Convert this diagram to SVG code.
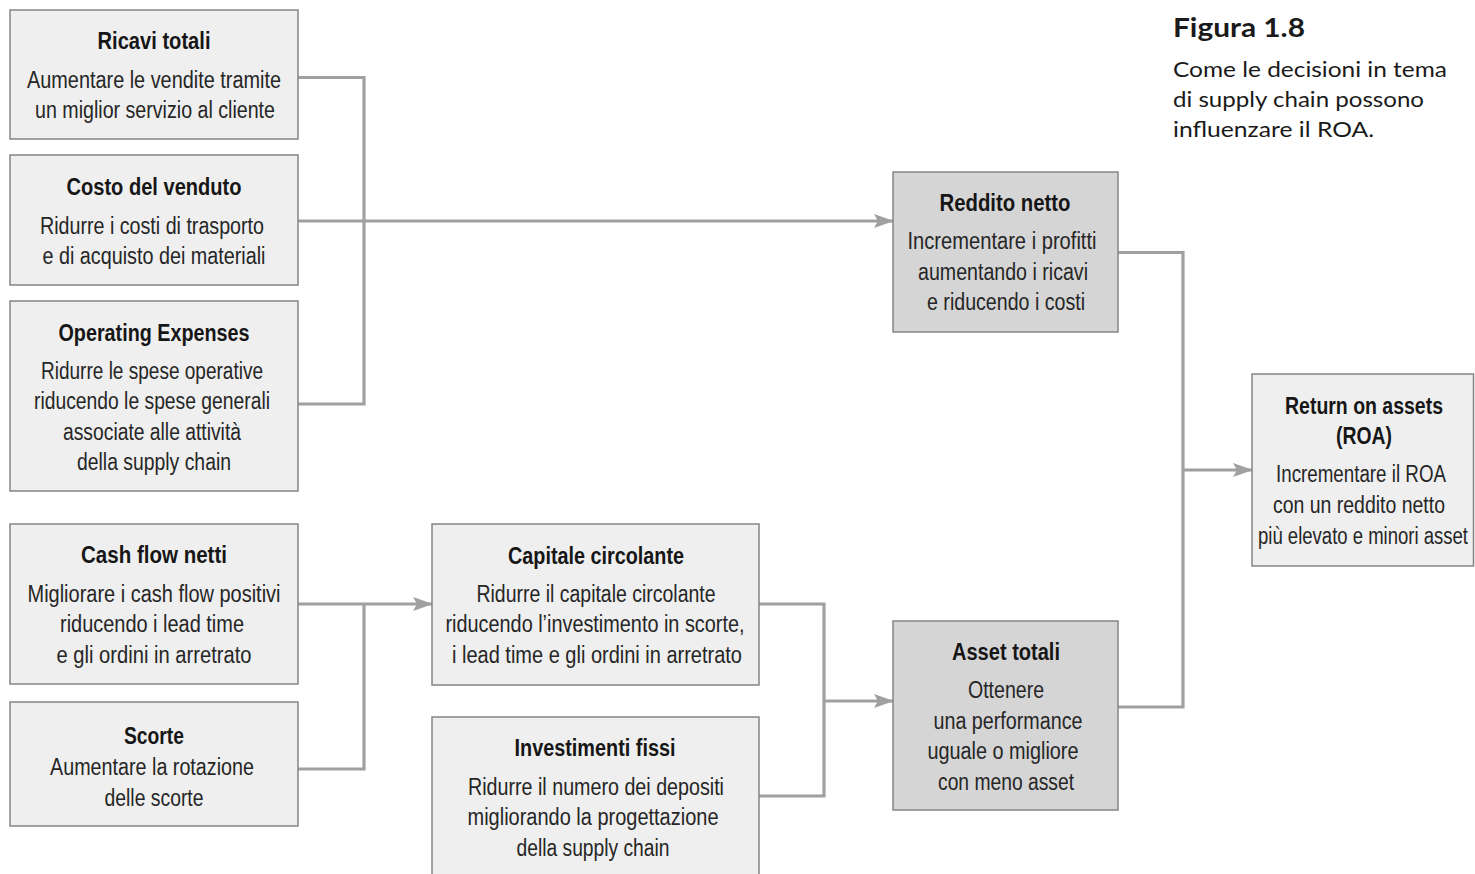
<svg xmlns="http://www.w3.org/2000/svg" width="1475" height="874" viewBox="0 0 1475 874">
  <defs>
    <style>
      .box { fill: #efefef; stroke: #858585; stroke-width: 1.5; }
      .box.dark { fill: #d5d5d5; }
      .t { font-family: "Liberation Sans", Arial, sans-serif; font-size: 23px; font-weight: bold; fill: #161616; text-anchor: middle; }
      .b { font-family: "Liberation Sans", Arial, sans-serif; font-size: 23px; fill: #262626; text-anchor: middle; }
      .wire { fill: none; stroke: #a0a0a0; stroke-width: 3.2; }
      .cap { font-family: Lato, "Open Sans", sans-serif; fill: #1a1a1a; }
    </style>
    <marker id="arrow" viewBox="0 0 20 14" refX="19" refY="7" markerUnits="userSpaceOnUse" markerWidth="20" markerHeight="14" orient="auto">
      <path d="M0,0 L20,7 L0,14 L4,7 Z" fill="#a0a0a0"/>
    </marker>
  </defs>

  <rect width="1475" height="874" fill="#ffffff"/>

  <!-- caption -->
  <g id="caption">
    <text class="cap" x="1173" y="37" font-size="26" font-weight="bold" textLength="132" lengthAdjust="spacingAndGlyphs">Figura 1.8</text>
    <text class="cap" x="1173" y="77" font-size="21" textLength="274" lengthAdjust="spacingAndGlyphs">Come le decisioni in tema</text>
    <text class="cap" x="1173" y="107" font-size="21" textLength="251" lengthAdjust="spacingAndGlyphs">di supply chain possono</text>
    <text class="cap" x="1173" y="137" font-size="21" textLength="201" lengthAdjust="spacingAndGlyphs">influenzare il ROA.</text>
  </g>

  <!-- connectors -->
  <g id="connectors">
    <path class="wire" d="M298,77.5 H364 V404 H298"/>
    <path class="wire" d="M298,221 H893" marker-end="url(#arrow)"/>
    <path class="wire" d="M1118,252.5 H1183 V707 H1118"/>
    <path class="wire" d="M1183,470 H1252" marker-end="url(#arrow)"/>
    <path class="wire" d="M298,604 H432" marker-end="url(#arrow)"/>
    <path class="wire" d="M364,604 V769 H298"/>
    <path class="wire" d="M759,604 H824 V796 H759"/>
    <path class="wire" d="M824,701 H893" marker-end="url(#arrow)"/>
  </g>

  <g id="ricavi-totali">
    <rect class="box" x="10" y="10" width="288" height="129"/>
    <text class="t" x="154" y="49" textLength="113" lengthAdjust="spacingAndGlyphs">Ricavi totali</text>
    <text class="b" x="154" y="88" textLength="254" lengthAdjust="spacingAndGlyphs">Aumentare le vendite tramite</text>
    <text class="b" x="155" y="118" textLength="240" lengthAdjust="spacingAndGlyphs">un miglior servizio al cliente</text>
  </g>

  <g id="costo-venduto">
    <rect class="box" x="10" y="155" width="288" height="130"/>
    <text class="t" x="154" y="195" textLength="175" lengthAdjust="spacingAndGlyphs">Costo del venduto</text>
    <text class="b" x="152" y="234" textLength="224" lengthAdjust="spacingAndGlyphs">Ridurre i costi di trasporto</text>
    <text class="b" x="154" y="264" textLength="223" lengthAdjust="spacingAndGlyphs">e di acquisto dei materiali</text>
  </g>

  <g id="operating-expenses">
    <rect class="box" x="10" y="301" width="288" height="190"/>
    <text class="t" x="154" y="341" textLength="191" lengthAdjust="spacingAndGlyphs">Operating Expenses</text>
    <text class="b" x="152" y="379" textLength="222" lengthAdjust="spacingAndGlyphs">Ridurre le spese operative</text>
    <text class="b" x="152" y="409" textLength="236" lengthAdjust="spacingAndGlyphs">riducendo le spese generali</text>
    <text class="b" x="152" y="440" textLength="178" lengthAdjust="spacingAndGlyphs">associate alle attività</text>
    <text class="b" x="154" y="470" textLength="154" lengthAdjust="spacingAndGlyphs">della supply chain</text>
  </g>

  <g id="cash-flow-netti">
    <rect class="box" x="10" y="524" width="288" height="160"/>
    <text class="t" x="154" y="563" textLength="146" lengthAdjust="spacingAndGlyphs">Cash flow netti</text>
    <text class="b" x="154" y="602" textLength="253" lengthAdjust="spacingAndGlyphs">Migliorare i cash flow positivi</text>
    <text class="b" x="152" y="632" textLength="184" lengthAdjust="spacingAndGlyphs">riducendo i lead time</text>
    <text class="b" x="154" y="663" textLength="195" lengthAdjust="spacingAndGlyphs">e gli ordini in arretrato</text>
  </g>

  <g id="scorte">
    <rect class="box" x="10" y="702" width="288" height="124"/>
    <text class="t" x="154" y="744" textLength="60" lengthAdjust="spacingAndGlyphs">Scorte</text>
    <text class="b" x="152" y="775" textLength="204" lengthAdjust="spacingAndGlyphs">Aumentare la rotazione</text>
    <text class="b" x="154" y="806" textLength="99" lengthAdjust="spacingAndGlyphs">delle scorte</text>
  </g>

  <g id="capitale-circolante">
    <rect class="box" x="432" y="524" width="327" height="161"/>
    <text class="t" x="596" y="564" textLength="176" lengthAdjust="spacingAndGlyphs">Capitale circolante</text>
    <text class="b" x="596" y="602" textLength="239" lengthAdjust="spacingAndGlyphs">Ridurre il capitale circolante</text>
    <text class="b" x="595" y="632" textLength="299" lengthAdjust="spacingAndGlyphs">riducendo l’investimento in scorte,</text>
    <text class="b" x="597" y="663" textLength="290" lengthAdjust="spacingAndGlyphs">i lead time e gli ordini in arretrato</text>
  </g>

  <g id="investimenti-fissi">
    <rect class="box" x="432" y="717" width="327" height="170"/>
    <text class="t" x="595" y="756" textLength="161" lengthAdjust="spacingAndGlyphs">Investimenti fissi</text>
    <text class="b" x="596" y="795" textLength="256" lengthAdjust="spacingAndGlyphs">Ridurre il numero dei depositi</text>
    <text class="b" x="593" y="825" textLength="251" lengthAdjust="spacingAndGlyphs">migliorando la progettazione</text>
    <text class="b" x="593" y="856" textLength="153" lengthAdjust="spacingAndGlyphs">della supply chain</text>
  </g>

  <g id="reddito-netto">
    <rect class="box dark" x="893" y="172" width="225" height="160"/>
    <text class="t" x="1005" y="211" textLength="131" lengthAdjust="spacingAndGlyphs">Reddito netto</text>
    <text class="b" x="1002" y="249" textLength="189" lengthAdjust="spacingAndGlyphs">Incrementare i profitti</text>
    <text class="b" x="1003" y="280" textLength="170" lengthAdjust="spacingAndGlyphs">aumentando i ricavi</text>
    <text class="b" x="1006" y="310" textLength="158" lengthAdjust="spacingAndGlyphs">e riducendo i costi</text>
  </g>

  <g id="asset-totali">
    <rect class="box dark" x="893" y="621" width="225" height="189"/>
    <text class="t" x="1006" y="660" textLength="108" lengthAdjust="spacingAndGlyphs">Asset totali</text>
    <text class="b" x="1006" y="698" textLength="76" lengthAdjust="spacingAndGlyphs">Ottenere</text>
    <text class="b" x="1008" y="729" textLength="149" lengthAdjust="spacingAndGlyphs">una performance</text>
    <text class="b" x="1003" y="759" textLength="151" lengthAdjust="spacingAndGlyphs">uguale o migliore</text>
    <text class="b" x="1006" y="790" textLength="136" lengthAdjust="spacingAndGlyphs">con meno asset</text>
  </g>

  <g id="return-on-assets">
    <rect class="box" x="1252" y="374" width="221.5" height="192"/>
    <text class="t" x="1364" y="414" textLength="158" lengthAdjust="spacingAndGlyphs">Return on assets</text>
    <text class="t" x="1364" y="444" textLength="56" lengthAdjust="spacingAndGlyphs">(ROA)</text>
    <text class="b" x="1361" y="482" textLength="170" lengthAdjust="spacingAndGlyphs">Incrementare il ROA</text>
    <text class="b" x="1359" y="513" textLength="172" lengthAdjust="spacingAndGlyphs">con un reddito netto</text>
    <text class="b" x="1363" y="544" textLength="210" lengthAdjust="spacingAndGlyphs">più elevato e minori asset</text>
  </g>
</svg>
